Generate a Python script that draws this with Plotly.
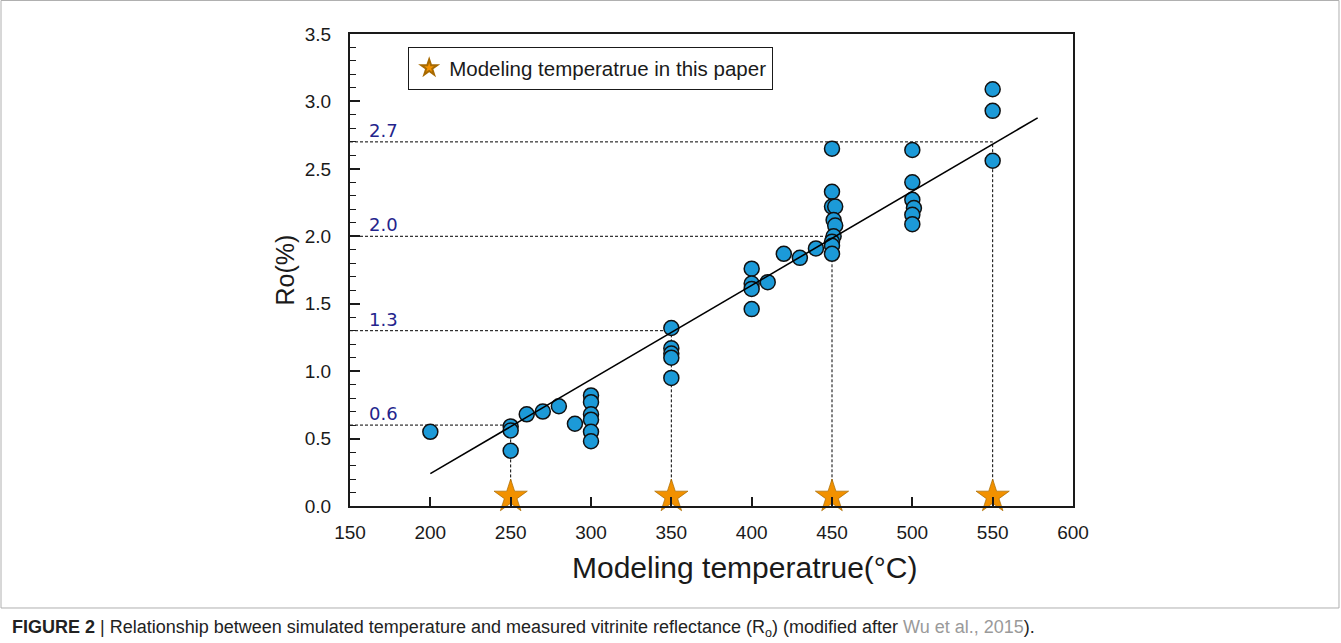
import plotly.graph_objects as go

# Measured vitrinite reflectance vs. modeling temperature
measured_temp = [200,
                 250, 250, 250,
                 260, 270, 280, 290,
                 300, 300, 300, 300, 300, 300,
                 350, 350, 350, 350, 350,
                 400, 400, 400, 400,
                 410, 420, 430, 440,
                 450, 450, 450, 452, 451, 452, 451, 450, 450, 450,
                 500, 500, 500, 501, 500, 500,
                 550, 550, 550]
measured_ro = [0.55,
               0.59, 0.56, 0.41,
               0.68, 0.70, 0.74, 0.61,
               0.82, 0.77, 0.68, 0.64, 0.55, 0.48,
               1.32, 1.17, 1.13, 1.10, 0.95,
               1.76, 1.65, 1.61, 1.46,
               1.66, 1.87, 1.84, 1.91,
               2.65, 2.33, 2.22, 2.22, 2.12, 2.08, 2.00, 1.96, 1.93, 1.87,
               2.64, 2.40, 2.27, 2.21, 2.16, 2.09,
               3.09, 2.93, 2.56]

# Temperatures used in the simulations and the Ro they correspond to
model_temp = [250, 350, 450, 550]
model_ro = [0.6, 1.3, 2.0, 2.7]
model_ro_labels = ["0.6", "1.3", "2.0", "2.7"]

# Linear fit Ro = a*T + b
fit_slope = 0.00698
fit_intercept = -1.156
fit_temp_range = [200, 578]

STAR_RO = 0.07
X_MIN = 150
T_RANGE = [150, 600]
RO_RANGE = [0, 3.5]

FONT = "Liberation Sans, Arial, sans-serif"
BLUE = "#1C9AD8"
ORANGE = "#F29100"
NAVY = "#24248C"
INK = "#1a1a1a"
CLEAR = "rgba(0,0,0,0)"

fig = go.Figure()

# dotted guides: horizontal from the y axis to each modeling temperature,
# vertical from the x axis up to the same Ro level
for t, ro in zip(model_temp, model_ro):
    fig.add_trace(go.Scatter(
        x=[X_MIN, t, t], y=[ro, ro, 0],
        mode="lines", line=dict(color="black", width=1, dash="3px,2px"),
        showlegend=False, hoverinfo="skip"))

# regression line, drawn on the overlay axes that carry the tick labels
fig.add_trace(go.Scatter(
    x=fit_temp_range,
    y=[fit_slope * t + fit_intercept for t in fit_temp_range],
    mode="lines", line=dict(color="black", width=1.6),
    xaxis="x2", yaxis="y2", showlegend=False, hoverinfo="skip"))

# measured samples
fig.add_trace(go.Scatter(
    x=measured_temp, y=measured_ro, mode="markers",
    marker=dict(size=15, color=BLUE, line=dict(color="#111111", width=1.5)),
    showlegend=False))

# modeling temperatures
fig.add_trace(go.Scatter(
    x=model_temp, y=[STAR_RO] * len(model_temp), mode="markers",
    marker=dict(symbol="star", size=25, color=ORANGE,
                line=dict(color="#a86a00", width=0.7)),
    name="Modeling temperatrue in this paper", showlegend=True,
    cliponaxis=False))

for ro, lab in zip(model_ro, model_ro_labels):
    fig.add_annotation(x=160.5, y=ro, text=lab, showarrow=False,
                       xanchor="left", yanchor="bottom", yshift=-1,
                       font=dict(family="DejaVu Sans, sans-serif", size=18,
                                 color=NAVY))

# x axis title, set slightly right of the plot centre
fig.add_annotation(xref="paper", yref="paper", x=0.545, y=-0.131,
                   xanchor="center", yanchor="middle", showarrow=False,
                   text="Modeling temperatrue(°C)",
                   font=dict(family=FONT, size=30, color=INK))

# caption and outer frame
fig.add_annotation(
    xref="paper", yref="paper", x=-0.4703, y=-0.2585,
    xanchor="left", yanchor="middle", showarrow=False,
    text=("<b>FIGURE 2</b> | Relationship between simulated temperature and measured "
          "vitrinite reflectance (R<sub>o</sub>) (modified after "
          "<span style='color:#9a9a9a'>Wu et al., 2015</span>)."),
    font=dict(family=FONT, size=18, color="#222222"))

fig.add_shape(type="rect", xref="paper", yref="paper",
              x0=-0.4827, x1=1.3679, y0=-0.2161, y1=1.071,
              line=dict(color="#b0b0b0", width=1), layer="below")

# frame axes: line + inward ticks, no labels
frame = dict(showgrid=False, zeroline=False, showline=True, mirror=True,
             linecolor=INK, linewidth=2.2, ticks="inside",
             tickcolor=INK, tickwidth=1.6, tickmode="linear",
             showticklabels=False)

fig.update_xaxes(range=T_RANGE, tick0=150, dtick=50, ticklen=9, **frame)
fig.update_yaxes(range=RO_RANGE, tick0=0, dtick=0.5, ticklen=10,
                 minor=dict(dtick=0.1, ticks="inside", ticklen=6,
                            tickcolor=INK, tickwidth=1.4),
                 **frame)

# label axes: invisible outward ticks set the label distance
labels = dict(showgrid=False, zeroline=False, showline=False,
              ticks="outside", tickcolor=CLEAR, tickmode="linear",
              tickfont=dict(family=FONT, size=19, color=INK))

fig.update_layout(
    width=1341, height=643,
    margin=dict(l=350, r=268, t=34, b=137),
    paper_bgcolor="white", plot_bgcolor="white",
    xaxis2=dict(overlaying="x", side="bottom", anchor="y", range=T_RANGE,
                tick0=150, dtick=50, ticklen=9, **labels),
    yaxis2=dict(overlaying="y", side="left", anchor="x", range=RO_RANGE,
                tick0=0, dtick=0.5, tickformat=".1f", ticklen=14,
                title=dict(text="Ro(%)", standoff=3,
                           font=dict(family=FONT, size=25, color=INK)),
                **labels),
    legend=dict(x=0.0802, y=0.973, xanchor="left", yanchor="top",
                bgcolor="white", bordercolor=INK, borderwidth=1.2,
                font=dict(family=FONT, size=20.5, color=INK),
                itemsizing="constant"),
)

fig.write_html("out.html")
